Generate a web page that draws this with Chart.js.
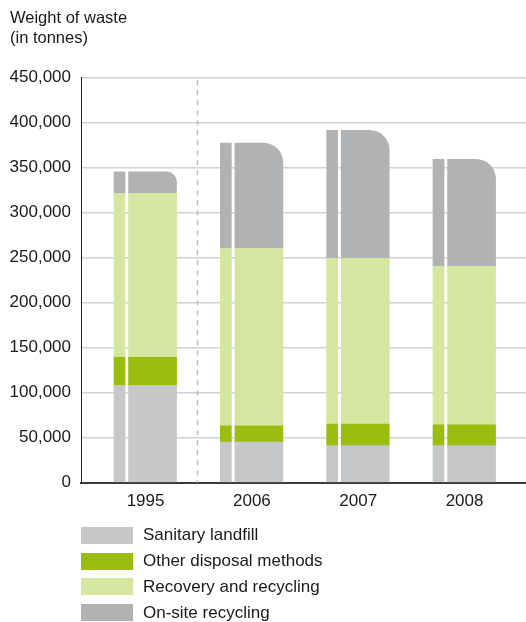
<!DOCTYPE html>
<html>
<head>
<meta charset="utf-8">
<script src="https://cdn.jsdelivr.net/npm/chart.js@4"></script>
<style>
  html, body { margin: 0; padding: 0; background: #fff; }
  #wrap { position: relative; width: 526px; height: 622px; overflow: hidden; }
  #legend { position: absolute; left: 81px; top: 522.6px; font-family: 'Liberation Sans', Arial, sans-serif; font-size: 17px; color: #1a1a1a; }
  #legend div { display: flex; align-items: center; height: 25.7px; }
  #legend span.box { display: inline-block; width: 52px; height: 17px; margin-right: 10px; }
</style>
</head>
<body>
<div id="wrap">
  <canvas id="chart" width="526" height="622"></canvas>
  <div id="legend"></div>
</div>
<script>
/*----- data -----*/
const years = ['1995', '2006', '2007', '2008']
const sanitaryLandfill = [108000, 45000, 41000, 41000]
const otherDisposal = [31000, 18000, 24000, 23000]
const recoveryRecycling = [182000, 197000, 184000, 176000]
const onSiteRecycling = [24000, 117000, 142000, 119000]

const seriesNames = ['Sanitary landfill', 'Other disposal methods', 'Recovery and recycling', 'On-site recycling']
const seriesValues = [sanitaryLandfill, otherDisposal, recoveryRecycling, onSiteRecycling]
const seriesColors = ['#c6c7c9', '#9bbd10', '#d6e59f', '#b1b2b4']

/*----- layout constants -----*/
const FONT = "'Liberation Sans', Arial, sans-serif"
const THIN_SHIFT = -0.245   // narrow strip left of each column
const WIDE_SHIFT = 0.066

/*----- datasets -----*/
const datasets = []
seriesValues.forEach((values, s) => {
  const isTop = s === seriesValues.length - 1
  datasets.push({
    label: seriesNames[s],
    data: values.map((v, i) => ({x: i + THIN_SHIFT, y: v})),
    backgroundColor: seriesColors[s],
    stack: 'thin',
    grouped: false,
    barThickness: 11
  })
  datasets.push({
    label: seriesNames[s],
    data: values.map((v, i) => ({x: i + WIDE_SHIFT, y: v})),
    backgroundColor: seriesColors[s],
    stack: 'wide',
    grouped: false,
    barThickness: 48,
    borderRadius: isTop ? {topRight: 20} : 0,
    borderSkipped: 'start'
  })
})

/*----- dashed divider between 1995 and 2006 -----*/
const dividerPlugin = {
  id: 'divider',
  beforeDatasetsDraw(chart) {
    const {ctx, chartArea, scales} = chart
    const x = Math.round(scales.x.getPixelForValue(0.485)) + 0.5
    ctx.save()
    ctx.strokeStyle = '#bdbdbd'
    ctx.lineWidth = 1.5
    ctx.setLineDash([5, 5])
    ctx.beginPath()
    ctx.moveTo(x, chartArea.top + 3)
    ctx.lineTo(x, chartArea.bottom)
    ctx.stroke()
    ctx.restore()
  }
}

new Chart(document.getElementById('chart'), {
  type: 'bar',
  data: { datasets: datasets },
  plugins: [dividerPlugin],
  options: {
    responsive: false,
    animation: false,
    layout: { padding: { left: 10, right: 0, top: 0, bottom: 101 } },
    plugins: {
      legend: { display: false },
      tooltip: { enabled: false },
      title: {
        display: true,
        text: ['Weight of waste', '(in tonnes)'],
        align: 'start',
        color: '#1a1a1a',
        font: { family: FONT, size: 16.5, weight: 'normal', lineHeight: 1.25 },
        padding: { top: 8, bottom: 28 }
      }
    },
    scales: {
      x: {
        type: 'linear',
        offset: false,
        min: -0.607,
        max: 3.578,
        afterBuildTicks: (scale) => { scale.ticks = years.map((y, i) => ({value: i})) },
        ticks: {
          callback: (value) => years[value],
          color: '#1a1a1a',
          font: { family: FONT, size: 17 },
          padding: 9,
          autoSkip: false,
          maxRotation: 0
        },
        grid: { display: false, drawTicks: false, offset: false },
        border: { display: true, color: '#3a3a3a', width: 2 }
      },
      y: {
        min: 0,
        max: 450000,
        stacked: true,
        afterFit: (scale) => { scale.width = 71 },
        ticks: {
          stepSize: 50000,
          callback: (value) => value.toLocaleString('en-US'),
          color: '#1a1a1a',
          font: { family: FONT, size: 17 },
          padding: 10
        },
        grid: {
          drawTicks: false,
          lineWidth: 1.5,
          color: (ctx) => ctx.tick && ctx.tick.value === 0 ? 'rgba(0,0,0,0)' : '#d2d2d2'
        },
        border: { display: true, color: '#222', width: 1 }
      }
    }
  }
})

/*----- legend -----*/
const legendEl = document.getElementById('legend')
seriesNames.forEach((name, s) => {
  const row = document.createElement('div')
  const box = document.createElement('span')
  box.className = 'box'
  box.style.background = seriesColors[s]
  row.appendChild(box)
  row.appendChild(document.createTextNode(name))
  legendEl.appendChild(row)
})
</script>
</body>
</html>
